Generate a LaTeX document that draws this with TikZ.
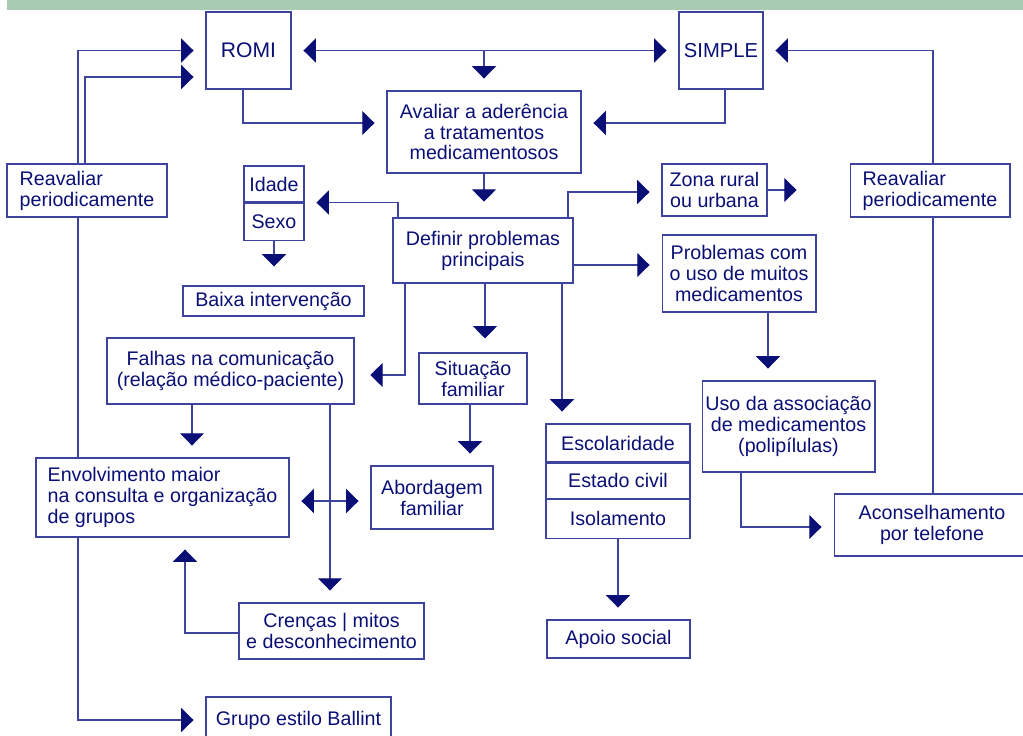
\documentclass[tikz,border=0pt]{standalone}
\usepackage{fontspec}
\setmainfont{Liberation Sans}
\usepackage{tikz}
\usetikzlibrary{arrows.meta,positioning,calc}
\definecolor{navyc}{RGB}{10,15,118}
\definecolor{linec}{RGB}{62,68,158}
\definecolor{barc}{RGB}{167,204,177}

\begin{document}
\begin{tikzpicture}[
    x=0.02cm, y=-0.02cm,
    box/.style={rectangle, draw=linec, line width=0.6pt, text=navyc, inner sep=0pt, align=center, font=\fontsize{11.2}{11.9}\selectfont},
    line/.style={draw=linec, line width=0.6pt},
    arrow/.style={line, -{Triangle[length=7pt,width=13.6pt,color=navyc]}, shorten >=6.8pt},
    arrows2/.style={line, {Triangle[length=7pt,width=13.6pt,color=navyc]}-{Triangle[length=7pt,width=13.6pt,color=navyc]}, shorten >=6.8pt, shorten <=6.8pt}
]
\useasboundingbox (0,0) rectangle (1023,735);
\fill[barc] (7,0) rectangle (1023,10);

% top row
\node[box, minimum width=1.70cm, minimum height=1.54cm, font=\fontsize{12}{13}\selectfont] (romi) at (248.5,50.5) {ROMI};
\node[box, minimum width=1.68cm, minimum height=1.54cm, font=\fontsize{11.5}{13}\selectfont] (simple) at (721,50.5) {SIMPLE};
\node[box, minimum width=3.88cm, minimum height=1.64cm] (avaliar) at (484,132) {Avaliar a aderência\\a tratamentos\\medicamentosos};
\node[box, minimum width=3.20cm, minimum height=1.06cm, align=left] (reavL) at (87,190.5) {Reavaliar\\periodicamente};
\node[box, minimum width=3.20cm, minimum height=1.06cm, align=left] (reavR) at (930,190.5) {Reavaliar\\periodicamente};

% middle
\node[box, minimum width=1.20cm, minimum height=0.72cm] (idade) at (274,184) {Idade};
\node[box, minimum width=1.20cm, minimum height=0.74cm, below=0pt of idade] (sexo) {Sexo};
\node[box, minimum width=3.60cm, minimum height=1.30cm] (definir) at (483,250.5) {Definir problemas\\principais};
\node[box, minimum width=2.10cm, minimum height=1.04cm] (zona) at (714.5,190) {Zona rural\\ou urbana};
\coordinate (zonaout) at ($(zona.east)+(41,0)$);
\node[box, minimum width=3.08cm, minimum height=1.54cm] (problemas) at (739,273.5) {Problemas com\\o uso de muitos\\medicamentos};
\node[box, minimum width=3.62cm, minimum height=0.60cm] (baixa) at (273.5,301) {Baixa intervenção};
\node[box, minimum width=4.94cm, minimum height=1.32cm] (falhas) at (230.5,371) {Falhas na comunicação\\(relação médico-paciente)};
\node[box, minimum width=2.16cm, minimum height=1.02cm] (situacao) at (473,378.5) {Situação\\familiar};
\node[box, minimum width=3.46cm, minimum height=1.82cm] (uso) at (788.5,426.5) {Uso da associação\\de medicamentos\\(polipílulas)};

% stack
\node[box, minimum width=2.88cm, minimum height=0.76cm] (escol) at (618,443) {Escolaridade};
\node[box, minimum width=2.88cm, minimum height=0.70cm, below=0pt of escol] (estado) {Estado civil};
\node[box, minimum width=2.88cm, minimum height=0.78cm, below=0pt of estado] (isol) {Isolamento};

% bottom
\node[box, minimum width=5.06cm, minimum height=1.58cm, align=left] (envolv) at (162.5,497.5) {Envolvimento maior\\na consulta e organização\\de grupos};
\node[box, minimum width=2.44cm, minimum height=1.26cm] (abord) at (432,497.5) {Abordagem\\familiar};
\node[box, minimum width=3.92cm, minimum height=1.24cm] (acons) at (932,525) {Aconselhamento\\por telefone};
\node[box, minimum width=3.70cm, minimum height=1.12cm] (crencas) at (331.5,631) {Crenças | mitos\\e desconhecimento};
\node[box, minimum width=2.86cm, minimum height=0.76cm] (apoio) at (618.5,639) {Apoio social};
\node[box, minimum width=3.70cm, minimum height=0.92cm] (grupo) at (298.5,720) {Grupo estilo Ballint};

% connectors, top
\draw[arrow] ($(reavL.north)+(-9,0)$) |- (romi.west);
\draw[arrow] ($(reavL.north)+(-2,0)$) |- ($(romi.west)+(0,26.5)$);
\draw[arrows2] (romi.east) -- (simple.west);
\draw[arrow] (avaliar.north |- romi.east) -- (avaliar.north);
\draw[arrow] ($(romi.south)+(-5.5,0)$) |- ($(avaliar.west)+(0,-9)$);
\draw[arrow] ($(simple.south)+(4,0)$) |- ($(avaliar.east)+(0,-9)$);
\draw[arrow, shorten >=9pt] (avaliar.south) -- (avaliar.south |- definir.north);
\draw[line] ($(reavR.south)+(3,0)$) coordinate (r2) -- (r2 |- acons.north);
\draw[arrow] (r2 |- reavR.north) |- (simple.east);
\draw[line] ($(reavL.south)+(-9,0)$) coordinate (r1) -- (r1 |- envolv.north);
\draw[arrow] (r1 |- envolv.south) |- (grupo.west);

% connectors, from Definir
\draw[arrow] ($(definir.north)+(-85,0)$) |- (idade.south east);
\draw[arrow, shorten >=10.8pt] (sexo.south) -- (sexo.south |- baixa.north);
\draw[arrow] ($(definir.north)+(85,0)$) |- ($(zona.west)+(0,2)$);
\draw[arrow] (zona.east) -- (zonaout);
\draw[arrow] ($(definir.east)+(0,14.5)$) coordinate (d1) -- (d1 -| problemas.west);
\draw[arrow, shorten >=8pt] ($(definir.south)+(2,0)$) coordinate (d2) -- (d2 |- situacao.north);
\draw[arrow] ($(definir.south)+(79,0)$) coordinate (d3) -- (d3 |- escol.north);
\draw[arrow, shorten >=9pt] ($(definir.south)+(-78,0)$) |- ($(falhas.east)+(0,4)$);

% connectors, lower part
\draw[arrow] ($(falhas.south)+(-38.5,0)$) coordinate (f1) -- (f1 |- envolv.north);
\draw[arrow] ($(falhas.south)+(99.5,0)$) coordinate (f2) -- (f2 |- crencas.north);
\draw[arrows2] ($(envolv.east)+(0,3.5)$) coordinate (e1) -- (e1 -| abord.west);
\draw[arrow] ($(situacao.south)+(-3,0)$) coordinate (s1) -- (s1 |- abord.north);
\draw[arrow] ($(crencas.west)+(0,2)$) -| ($(envolv.south)+(22.5,0)$);
\draw[arrow] ($(problemas.south)+(29,0)$) coordinate (p1) -- (p1 |- uso.north);
\draw[arrow] ($(uso.south)+(-47.5,0)$) |- ($(acons.west)+(0,2)$);
\draw[arrow] (isol.south) -- (isol.south |- apoio.north);
\end{tikzpicture}
\end{document}
